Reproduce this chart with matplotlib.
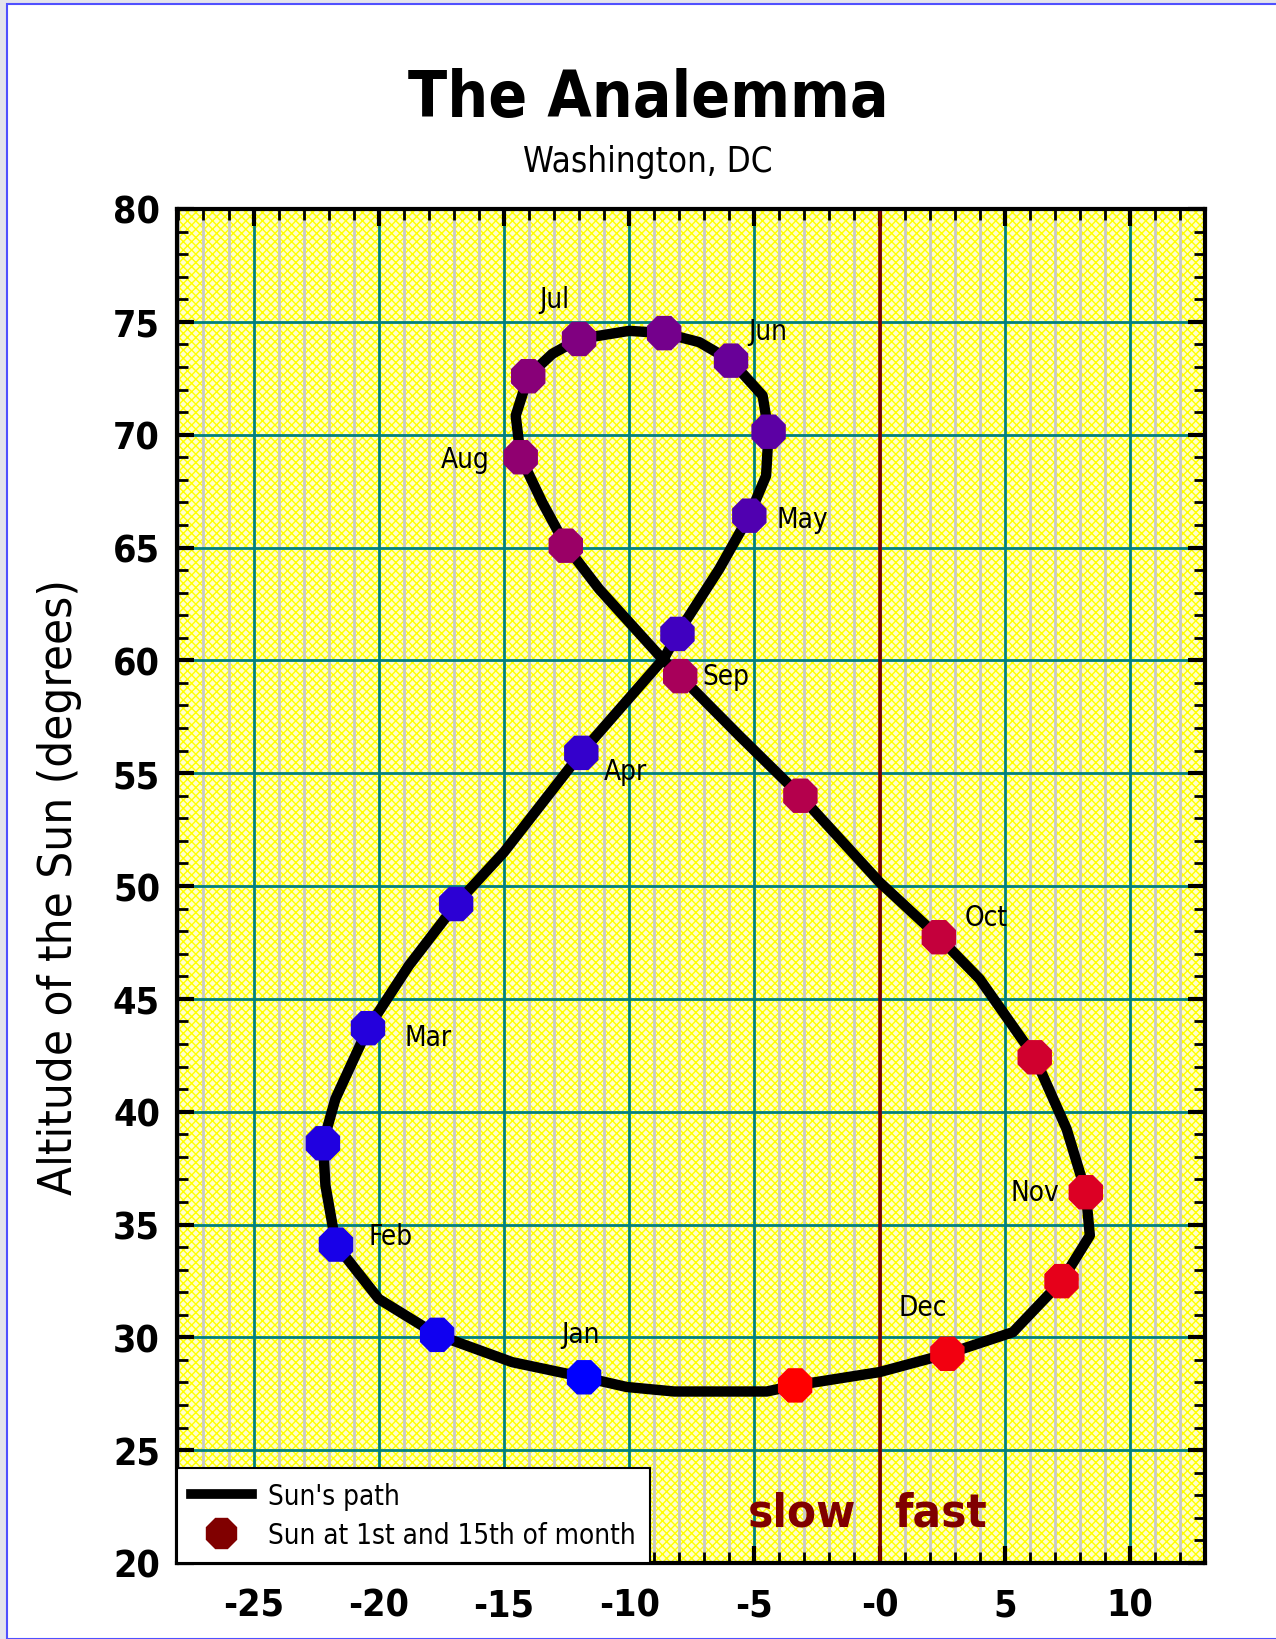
import matplotlib
matplotlib.use("Agg")
import matplotlib.pyplot as plt
from matplotlib.lines import Line2D
from matplotlib.patches import Rectangle

plt.rcParams['font.family'] = ['DejaVu Sans']
plt.rcParams['font.stretch'] = 'condensed'
plt.rcParams['hatch.linewidth'] = 1.0

# === Datos: puntos del 1 y 15 de cada mes (minutos, grados) ===
fechas = ["Jan 1", "Jan 15", "Feb 1", "Feb 15", "Mar 1", "Mar 15",
          "Apr 1", "Apr 15", "May 1", "May 15", "Jun 1", "Jun 15",
          "Jul 1", "Jul 15", "Aug 1", "Aug 15", "Sep 1", "Sep 15",
          "Oct 1", "Oct 15", "Nov 1", "Nov 15", "Dec 1", "Dec 15"]
punto_x = [-11.8, -17.67, -21.71, -22.23, -20.43, -16.91,
           -11.91, -8.07, -5.2, -4.43, -5.93, -8.6,
           -12.0, -14.03, -14.33, -12.53, -7.96, -3.16,
           2.37, 6.2, 8.24, 7.27, 2.71, -3.37]
punto_y = [28.23, 30.11, 34.11, 38.6, 43.7, 49.2,
           55.9, 61.17, 66.41, 70.13, 73.28, 74.5,
           74.24, 72.59, 69.0, 65.08, 59.3, 54.0,
           47.73, 42.41, 36.43, 32.49, 29.27, 27.87]

# === Trayectoria del sol ===
path_x = [-11.8, -14.67, -17.67, -20.0, -21.71, -22.13, -22.23, -21.73,
          -20.43, -18.8, -16.91, -15.0, -11.91, -8.6, -8.07, -6.4,
          -5.2, -4.53, -4.43, -4.67, -5.93, -7.2, -8.6, -10.0,
          -12.0, -13.07, -14.03, -14.53, -14.33, -13.47, -12.53, -11.2,
          -8.67, -7.96, -5.6, -3.16, 0.0, 2.37, 4.0, 6.2,
          7.47, 8.24, 8.4, 7.27, 5.33, 2.71, 0.0, -3.37,
          -4.5, -8.2, -10.1, -11.8]
path_y = [28.23, 28.9, 30.11, 31.7, 34.11, 36.73, 38.6, 40.57,
          43.7, 46.47, 49.2, 51.5, 55.9, 60.1, 61.17, 64.05,
          66.41, 68.18, 70.13, 71.73, 73.28, 74.1, 74.5, 74.6,
          74.24, 73.58, 72.59, 70.84, 69.0, 67.0, 65.08, 63.16,
          60.06, 59.3, 56.66, 54.0, 50.17, 47.73, 45.88, 42.41,
          39.24, 36.43, 34.51, 32.49, 30.23, 29.27, 28.46, 27.87,
          27.6, 27.6, 27.8, 28.23]

# === Etiquetas de meses ===
meses = ["Jan", "Feb", "Mar", "Apr", "May", "Jun",
         "Jul", "Aug", "Sep", "Oct", "Nov", "Dec"]
mes_x = [-11.93, -19.53, -18.03, -10.13, -3.1, -4.47,
         -13.0, -16.53, -6.13, 4.27, 6.2, 1.73]
mes_y = [30.16, 34.51, 43.3, 55.11, 66.27, 74.6,
         76.0, 68.92, 59.32, 48.62, 36.43, 31.34]

# === Ejes ===
x_ticks = [-25, -20, -15, -10, -5, 0, 5, 10]
x_tick_labels = ["-25", "-20", "-15", "-10", "-5", "-0", "5", "10"]
y_ticks = [20, 25, 30, 35, 40, 45, 50, 55, 60, 65, 70, 75, 80]

# colores de los puntos: azul -> morado -> rojo
colores = ["#0000ff", "#1000f0", "#1800e8", "#2000e0", "#2400dc", "#2c00d4",
           "#3400cc", "#4000c0", "#5000b0", "#5c00a4", "#680098", "#74008c",
           "#800080", "#880078", "#900070", "#9a0066", "#a8005a", "#b4004c",
           "#c4003c", "#d0002e", "#dc0024", "#e6001a", "#f20010", "#ff0000"]

fig = plt.figure(figsize=(12.76, 16.4), dpi=100)
fig.patch.set_facecolor("#e4e4ec")
marco = Rectangle((7 / 1276, 0), 1, 1 - 5 / 1640, transform=fig.transFigure,
                  facecolor="white", edgecolor="#5050ff", linewidth=1.5, zorder=-10)
fig.patches.append(marco)

ax = fig.add_axes([176.7 / 1276, 1 - 1564 / 1640, (1205 - 176.7) / 1276, (1564 - 210) / 1640])
ax.set_zorder(1)
ax.set_xlim(-28.07, 13.0)
ax.set_ylim(20, 80)

# fondo amarillo tramado
ax.set_facecolor("white")
ax.add_patch(Rectangle((0, 0), 1, 1, transform=ax.transAxes, facecolor="#ffffcc",
                       edgecolor="#ffff00", hatch="x" * 4, linewidth=0, zorder=0))

# rejilla
for xv in range(-28, 14):
    if xv % 5 == 0:
        ax.axvline(xv, color="#008080", linewidth=2, zorder=1)
    else:
        ax.axvline(xv, color="#c8c8c8", linewidth=2, zorder=1)
for yv in y_ticks:
    ax.axhline(yv, color="#008080", linewidth=2, zorder=1)
ax.axvline(0, color="#800000", linewidth=2.6, zorder=2)

# trayectoria y puntos
ax.plot(path_x, path_y, color="black", linewidth=7.5, solid_joinstyle="round",
        solid_capstyle="round", zorder=3)
ax.scatter(punto_x, punto_y, s=720, marker="8", c=colores, linewidths=0, zorder=4)

for m, mx, my in zip(meses, mes_x, mes_y):
    ax.text(mx, my, m, fontsize=20, ha="center", va="center", color="black", zorder=5)

ax.text(-3.08, 22.2, "slow", fontsize=34, fontweight="bold", color="#800000",
        ha="center", va="center", zorder=5)
ax.text(2.44, 22.2, "fast", fontsize=34, fontweight="bold", color="#800000",
        ha="center", va="center", zorder=5)

# ticks
ax.set_xticks(x_ticks)
ax.set_xticklabels(x_tick_labels)
ax.set_yticks(y_ticks)
ax.set_xticks(range(-28, 14), minor=True)
ax.set_yticks(range(20, 81), minor=True)
ax.tick_params(which="major", direction="in", length=12, width=3, top=True, right=True,
               labelsize=27, color="black")
ax.tick_params(which="minor", direction="in", length=8, width=2, top=True, right=True,
               color="black")
ax.tick_params(axis="x", which="major", pad=18)
ax.tick_params(axis="y", which="major", pad=12)
for lbl in ax.get_xticklabels() + ax.get_yticklabels():
    lbl.set_fontweight("bold")
for sp in ax.spines.values():
    sp.set_linewidth(3)
    sp.set_color("black")
    sp.set_zorder(6)

ax.set_ylabel("Altitude of the Sun (degrees)", fontsize=34, labelpad=22)

# leyenda
handles = [Line2D([0], [0], color="black", linewidth=7),
           Line2D([0], [0], color="#800000", marker="8", markersize=24, linestyle="none")]
leg = ax.legend(handles, ["Sun's path", "Sun at 1st and 15th of month"], loc="lower left",
                bbox_to_anchor=(0, 0), borderaxespad=0, fontsize=20, fancybox=False,
                framealpha=1, edgecolor="black", handlelength=2.2, labelspacing=0.4,
                borderpad=0.5, handletextpad=0.6)
leg.get_frame().set_linewidth(1.5)
leg.set_zorder(7)

fig.text(648 / 1276, 1 - 99 / 1640, "The Analemma", fontsize=46, fontweight="bold",
         ha="center", va="center")
fig.text(648 / 1276, 1 - 162 / 1640, "Washington, DC", fontsize=25,
         ha="center", va="center")

fig.savefig("out.png", dpi=100, facecolor=fig.get_facecolor())
